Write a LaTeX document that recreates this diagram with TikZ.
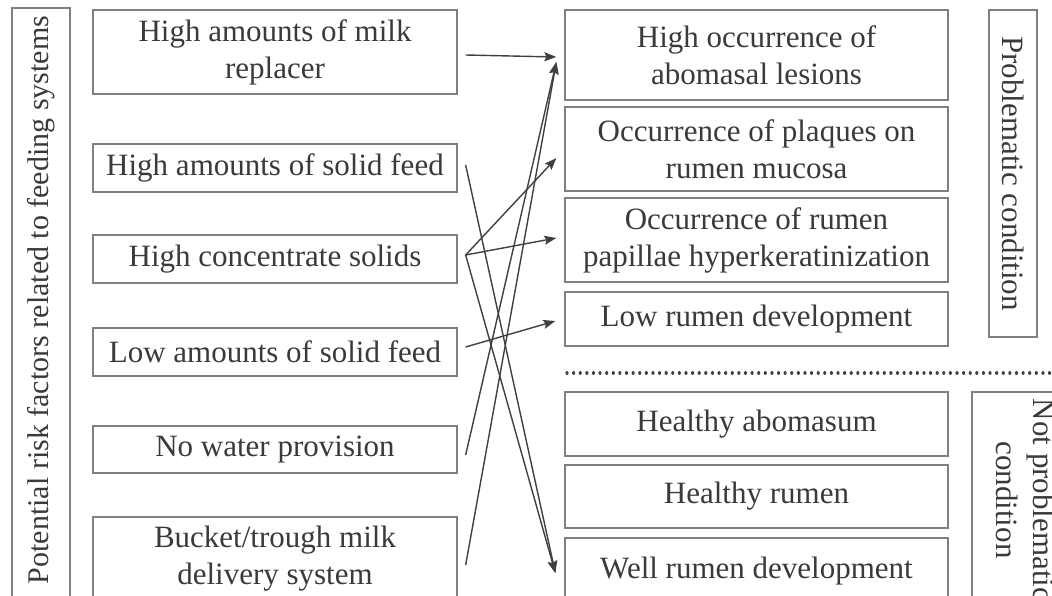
\documentclass[tikz,border=0pt]{standalone}
\usepackage{fontspec}
\setmainfont{Liberation Serif}
\usetikzlibrary{arrows.meta}
\definecolor{txt}{HTML}{3A3A3A}
\definecolor{edgegray}{HTML}{808080}
\definecolor{arw}{HTML}{404040}
\newcommand\figfont{\fontsize{31}{37}\selectfont}
\newcommand\sidefont{\fontsize{30}{36}\selectfont}
\begin{document}
\begin{tikzpicture}[x=1pt,y=-1pt,
  box/.style={draw=edgegray,line width=1.3pt,text=txt,font=\figfont,align=center,inner sep=0pt},
  lbox/.style={box,minimum width=364pt},
  rbox/.style={box,minimum width=383pt},
  lab/.style={text=txt,font=\figfont,align=center,inner sep=0pt},
  arr/.style={draw=arw,line width=1.4pt,-{Stealth[length=12pt,width=9pt,inset=2pt]}},
  ln/.style={draw=arw,line width=1.4pt}]
\useasboundingbox (0,0) rectangle (1052,596);
\clip (0,0) rectangle (1052,596);
\fill[white] (0,0) rectangle (1052,596);
% left label
\draw[edgegray,line width=1.3pt] (12,8) rectangle (70,630);
\node[lab,font=\sidefont,rotate=90] (leftlab) at (41,300) {Potential risk factors related to feeding systems};
% left boxes
\node[lbox,minimum height=84pt] (L1) at (275,52) {High amounts of milk\\replacer};
\node[lbox,minimum height=48pt] (L2) at (275,168) {High amounts of solid feed};
\node[lbox,minimum height=48pt] (L3) at (275,259) {High concentrate solids};
\node[lbox,minimum height=48pt] (L4) at (275,352) {Low amounts of solid feed};
\node[lbox,minimum height=47pt] (L5) at (275,449.5) {No water provision};
\node[lbox,minimum height=84pt] (L6) at (275,559) {Bucket/trough milk\\delivery system};
% right boxes
\node[rbox,minimum height=90pt] (R1) at (756.5,55) {High occurrence of\\abomasal lesions};
\node[rbox,minimum height=84pt] (R2) at (756.5,149) {Occurrence of plaques on\\rumen mucosa};
\node[rbox,minimum height=84pt] (R3) at (756.5,240) {Occurrence of rumen\\papillae hyperkeratinization};
\node[rbox,minimum height=54pt] (R4) at (756.5,319) {Low rumen development};
\node[rbox,minimum height=64pt] (R5) at (756.5,424) {Healthy abomasum};
\node[rbox,minimum height=63pt] (R6) at (756.5,496.5) {Healthy rumen};
\node[rbox,minimum height=66pt] (R7) at (756.5,571) {Well rumen development};
% right labels
\node[box,rotate=-90,minimum width=327pt,minimum height=48pt] (P) at (1013,173.5) {Problematic condition};
\draw[edgegray,line width=1.3pt] (972,392) rectangle (1090,630);
\node[lab,rotate=-90] (NP) at (1026,500) {Not problematic\\condition};
% dotted separator
\coordinate (d1) at (567,373);
\coordinate (d2) at (1052,373);
\draw[arw,line width=3.2pt,line cap=round,dash pattern=on 0.01pt off 6.6pt] (d1) -- (d2);
% connectors
\draw[arr] ([xshift=8pt,yshift=-3pt]L1.east) -- ([xshift=-8pt,yshift=-2pt]R1.west);
\draw[arr] ([xshift=8pt,yshift=3pt]L2.east) -- ([xshift=-9pt,yshift=-2pt]R7.west);
\draw[arr] ([xshift=8pt,yshift=4pt]L3.east) -- ([xshift=-8pt,yshift=-9pt]R2.west);
\draw[arr] ([xshift=8pt,yshift=4pt]L3.east) -- ([xshift=-8pt,yshift=2pt]R3.west);
\draw[arr] ([xshift=8pt,yshift=4pt]L3.east) -- ([xshift=-9pt,yshift=-2pt]R7.west);
\draw[arr] ([xshift=8pt,yshift=5pt]L4.east) -- ([xshift=-9pt,yshift=-2pt]R4.west);
\draw[arr] ([xshift=8pt,yshift=-5.5pt]L5.east) -- ([xshift=-8pt,yshift=-7pt]R1.west);
\draw[arr] ([xshift=8pt,yshift=-6pt]L6.east) -- ([xshift=-8pt,yshift=-7pt]R1.west);
\end{tikzpicture}
\end{document}
